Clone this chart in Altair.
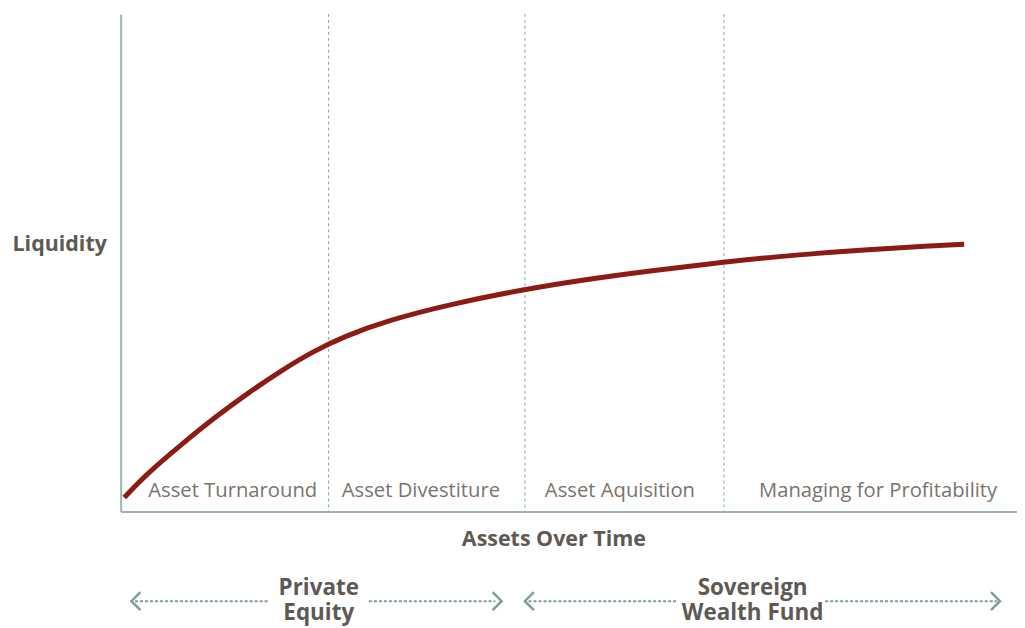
import altair as alt
import pandas as pd

# Curve (x: assets over time 0-100, y: liquidity 0-100)
curve_x = [0.4, 3.0, 6.8, 10.5, 14.2, 17.9, 21.6, 25.0, 29.6, 36.9, 44.9, 51.8, 59.2, 67.2, 75.5, 83.0, 90.3, 94.1]
curve_y = [2.8, 7.7, 13.5, 18.9, 23.8, 28.3, 32.3, 35.2, 38.3, 41.7, 44.6, 46.6, 48.4, 50.1, 51.6, 52.6, 53.4, 53.7]

# Phase dividers and labels
divider_x = [23.2, 45.1, 67.3]
phase_labels = ["Asset Turnaround", "Asset Divestiture", "Asset Aquisition", "Managing for Profitability"]
phase_label_x = [12.5, 33.5, 55.7, 84.5]

# Investor spans (bottom arrows)
span_labels = ["Private\nEquity", "Sovereign\nWealth Fund"]
span_label_x = [22.1, 70.5]
span_seg_id = ["a", "a", "b", "b", "c", "c", "d", "d"]
span_seg_x = [1.6, 16.4, 27.7, 41.8, 45.5, 62.0, 78.6, 97.8]
left_head_x = [1.2, 45.1]
right_head_x = [42.5, 98.1]

FONT = "Open Sans"
AXIS_C = "#9db4b4"
ARROW_C = "#7f9d9d"
TEXT_DARK = "#5f5953"
TEXT_LIGHT = "#7a736d"

curve_df = pd.DataFrame({"x": curve_x, "y": curve_y})
div_df = pd.DataFrame({"x": divider_x})
phase_df = pd.DataFrame({"x": phase_label_x, "label": phase_labels})
span_df = pd.DataFrame({"x": span_label_x, "label": span_labels})
seg_df = pd.DataFrame({"id": span_seg_id, "x": span_seg_x})
lh_df = pd.DataFrame({"x": left_head_x})
rh_df = pd.DataFrame({"x": right_head_x})

xs = alt.Scale(domain=[0, 100], nice=False, zero=False)
ys = alt.Scale(domain=[0, 100], nice=False, zero=False)

base_x_axis = alt.Axis(
    title="Assets Over Time", labels=False, ticks=False, grid=False,
    domainColor=AXIS_C, domainWidth=2,
    titleFont=FONT, titleFontSize=21.5, titleFontWeight="bold", titleColor=TEXT_DARK,
    titleX=434, titleY=28, titleBaseline="middle", titleAnchor=None,
)
base_y_axis = alt.Axis(
    title="Liquidity", labels=False, ticks=False, grid=False,
    domainColor=AXIS_C, domainWidth=2,
    titleFont=FONT, titleFontSize=21.5, titleFontWeight="bold", titleColor=TEXT_DARK,
    titleAngle=0, titleAlign="left", titleBaseline="middle",
    titleX=-109, titleY=231,
)

dividers = alt.Chart(div_df).mark_rule(
    color="#8aa3a3", strokeWidth=1, strokeDash=[3, 3]
).encode(x=alt.X("x:Q", scale=xs, axis=base_x_axis))

curve = alt.Chart(curve_df).mark_line(
    color="#8c1c13", strokeWidth=5, interpolate="basis", strokeCap="butt"
).encode(
    x=alt.X("x:Q", scale=xs, axis=base_x_axis),
    y=alt.Y("y:Q", scale=ys, axis=base_y_axis),
)

phase_text = alt.Chart(phase_df).mark_text(
    font=FONT, fontSize=20.3, color=TEXT_LIGHT, align="center", baseline="middle"
).encode(x=alt.X("x:Q", scale=xs), y=alt.value(479), text="label:N")

seg_lines = alt.Chart(seg_df).mark_line(
    color=ARROW_C, strokeWidth=2, strokeDash=[3, 2], clip=False
).encode(x=alt.X("x:Q", scale=xs), y=alt.value(589), detail="id:N")

left_heads = alt.Chart(lh_df).mark_point(
    shape="M1,-1L0,0L1,1", size=324, filled=False, stroke=ARROW_C, strokeWidth=2.5,
    opacity=1, clip=False
).encode(x=alt.X("x:Q", scale=xs), y=alt.value(589))

right_heads = alt.Chart(rh_df).mark_point(
    shape="M-1,-1L0,0L-1,1", size=324, filled=False, stroke=ARROW_C, strokeWidth=2.5,
    opacity=1, clip=False
).encode(x=alt.X("x:Q", scale=xs), y=alt.value(589))

span_text = alt.Chart(span_df).mark_text(
    font=FONT, fontSize=22.5, fontWeight="bold", color=TEXT_DARK,
    align="center", baseline="middle", lineBreak="\n", lineHeight=25
).encode(x=alt.X("x:Q", scale=xs), y=alt.value(576), text="label:N")

chart = alt.layer(
    dividers, curve, phase_text, seg_lines, left_heads, right_heads, span_text
).properties(
    width=899, height=499,
    autosize=alt.AutoSizeParams(type="none"),
    padding={"left": 113, "top": 5, "right": 0, "bottom": 114},
    background="white",
).configure_view(stroke=None)

chart.save("out.html", embed_options={"renderer": "svg", "actions": False})
